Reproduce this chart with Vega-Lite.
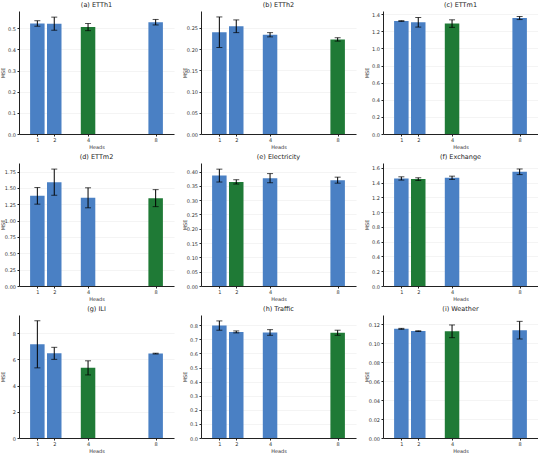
{
  "$schema": "https://vega.github.io/schema/vega-lite/v6.json",
  "background": "white",
  "padding": {"left": 0, "top": 1, "right": 0, "bottom": 0},
  "config": {
    "font": "DejaVu Sans",
    "view": {"stroke": null},
    "title": {"fontSize": 6.5, "fontWeight": "normal", "color": "#222222", "offset": 3},
    "axis": {
      "labelFontSize": 5,
      "titleFontSize": 5,
      "titleFontWeight": "normal",
      "labelColor": "#333333",
      "titleColor": "#333333",
      "domainColor": "#222222",
      "tickColor": "#222222",
      "tickSize": 2,
      "labelPadding": 1.5,
      "titlePadding": 2,
      "labelOverlap": false,
      "labelFlush": false
    },
    "axisX": {"grid": false, "labelAngle": 0},
    "axisY": {"grid": true, "gridColor": "#ececec", "gridWidth": 0.6, "titleX": -14}
  },
  "data": {
    "values": [
      {"dataset": "ETTh1", "heads": 1, "mse": 0.523, "err": 0.013},
      {"dataset": "ETTh1", "heads": 2, "mse": 0.522, "err": 0.031},
      {"dataset": "ETTh1", "heads": 4, "mse": 0.506, "err": 0.017},
      {"dataset": "ETTh1", "heads": 8, "mse": 0.529, "err": 0.013},
      {"dataset": "ETTh2", "heads": 1, "mse": 0.240, "err": 0.036},
      {"dataset": "ETTh2", "heads": 2, "mse": 0.254, "err": 0.015},
      {"dataset": "ETTh2", "heads": 4, "mse": 0.234, "err": 0.005},
      {"dataset": "ETTh2", "heads": 8, "mse": 0.223, "err": 0.004},
      {"dataset": "ETTm1", "heads": 1, "mse": 1.32, "err": 0.004},
      {"dataset": "ETTm1", "heads": 2, "mse": 1.305, "err": 0.056},
      {"dataset": "ETTm1", "heads": 4, "mse": 1.29, "err": 0.044},
      {"dataset": "ETTm1", "heads": 8, "mse": 1.355, "err": 0.018},
      {"dataset": "ETTm2", "heads": 1, "mse": 1.378, "err": 0.127},
      {"dataset": "ETTm2", "heads": 2, "mse": 1.587, "err": 0.2},
      {"dataset": "ETTm2", "heads": 4, "mse": 1.348, "err": 0.153},
      {"dataset": "ETTm2", "heads": 8, "mse": 1.343, "err": 0.13},
      {"dataset": "Electricity", "heads": 1, "mse": 0.386, "err": 0.0225},
      {"dataset": "Electricity", "heads": 2, "mse": 0.364, "err": 0.0075},
      {"dataset": "Electricity", "heads": 4, "mse": 0.377, "err": 0.016},
      {"dataset": "Electricity", "heads": 8, "mse": 0.370, "err": 0.0105},
      {"dataset": "Exchange", "heads": 1, "mse": 1.456, "err": 0.022},
      {"dataset": "Exchange", "heads": 2, "mse": 1.447, "err": 0.018},
      {"dataset": "Exchange", "heads": 4, "mse": 1.465, "err": 0.022},
      {"dataset": "Exchange", "heads": 8, "mse": 1.546, "err": 0.038},
      {"dataset": "ILI", "heads": 1, "mse": 7.16, "err": 1.8},
      {"dataset": "ILI", "heads": 2, "mse": 6.47, "err": 0.46},
      {"dataset": "ILI", "heads": 4, "mse": 5.36, "err": 0.54},
      {"dataset": "ILI", "heads": 8, "mse": 6.45, "err": 0.03},
      {"dataset": "Traffic", "heads": 1, "mse": 0.798, "err": 0.033},
      {"dataset": "Traffic", "heads": 2, "mse": 0.753, "err": 0.007},
      {"dataset": "Traffic", "heads": 4, "mse": 0.749, "err": 0.02},
      {"dataset": "Traffic", "heads": 8, "mse": 0.747, "err": 0.018},
      {"dataset": "Weather", "heads": 1, "mse": 0.1151, "err": 0.0005},
      {"dataset": "Weather", "heads": 2, "mse": 0.1127, "err": 0.0004},
      {"dataset": "Weather", "heads": 4, "mse": 0.1125, "err": 0.0067},
      {"dataset": "Weather", "heads": 8, "mse": 0.1137, "err": 0.0093}
    ]
  },
  "columns": 3,
  "spacing": {"row": 3, "column": 8},
  "concat": [
    {
      "title": "(a) ETTh1", "width": 155, "height": 123,
      "transform": [{"filter": "datum.dataset === 'ETTh1'"}, {"joinaggregate": [{"op": "min", "field": "mse", "as": "min_mse"}]}],
      "encoding": {
        "x": {"field": "heads", "type": "quantitative", "title": "Heads", "scale": {"domain": [0.21, 8.79], "nice": false}, "axis": {"values": [1, 2, 4, 8]}},
        "y": {"field": "mse", "type": "quantitative", "title": "MSE", "scale": {"domain": [0, 0.582], "nice": false}, "axis": {"values": [0, 0.1, 0.2, 0.3, 0.4, 0.5], "format": ".1f"}}
      },
      "layer": [
        {"mark": {"type": "bar", "size": 14.5}, "encoding": {"color": {"condition": {"test": "datum.mse === datum.min_mse", "value": "#1f7a36"}, "value": "#4a80c4"}}},
        {"mark": {"type": "errorbar", "ticks": true, "size": 6, "thickness": 1, "color": "black"}, "encoding": {"yError": {"field": "err"}}}
      ]
    },
    {
      "title": "(b) ETTh2", "width": 155, "height": 123,
      "transform": [{"filter": "datum.dataset === 'ETTh2'"}, {"joinaggregate": [{"op": "min", "field": "mse", "as": "min_mse"}]}],
      "encoding": {
        "x": {"field": "heads", "type": "quantitative", "title": "Heads", "scale": {"domain": [0.21, 8.79], "nice": false}, "axis": {"values": [1, 2, 4, 8]}},
        "y": {"field": "mse", "type": "quantitative", "title": "MSE", "scale": {"domain": [0, 0.29], "nice": false}, "axis": {"values": [0, 0.05, 0.1, 0.15, 0.2, 0.25], "format": ".2f"}}
      },
      "layer": [
        {"mark": {"type": "bar", "size": 14.5}, "encoding": {"color": {"condition": {"test": "datum.mse === datum.min_mse", "value": "#1f7a36"}, "value": "#4a80c4"}}},
        {"mark": {"type": "errorbar", "ticks": true, "size": 6, "thickness": 1, "color": "black"}, "encoding": {"yError": {"field": "err"}}}
      ]
    },
    {
      "title": "(c) ETTm1", "width": 155, "height": 123,
      "transform": [{"filter": "datum.dataset === 'ETTm1'"}, {"joinaggregate": [{"op": "min", "field": "mse", "as": "min_mse"}]}],
      "encoding": {
        "x": {"field": "heads", "type": "quantitative", "title": "Heads", "scale": {"domain": [0.21, 8.79], "nice": false}, "axis": {"values": [1, 2, 4, 8]}},
        "y": {"field": "mse", "type": "quantitative", "title": "MSE", "scale": {"domain": [0, 1.437], "nice": false}, "axis": {"values": [0, 0.2, 0.4, 0.6, 0.8, 1.0, 1.2, 1.4], "format": ".1f"}}
      },
      "layer": [
        {"mark": {"type": "bar", "size": 14.5}, "encoding": {"color": {"condition": {"test": "datum.mse === datum.min_mse", "value": "#1f7a36"}, "value": "#4a80c4"}}},
        {"mark": {"type": "errorbar", "ticks": true, "size": 6, "thickness": 1, "color": "black"}, "encoding": {"yError": {"field": "err"}}}
      ]
    },
    {
      "title": "(d) ETTm2", "width": 155, "height": 123,
      "transform": [{"filter": "datum.dataset === 'ETTm2'"}, {"joinaggregate": [{"op": "min", "field": "mse", "as": "min_mse"}]}],
      "encoding": {
        "x": {"field": "heads", "type": "quantitative", "title": "Heads", "scale": {"domain": [0.21, 8.79], "nice": false}, "axis": {"values": [1, 2, 4, 8]}},
        "y": {"field": "mse", "type": "quantitative", "title": "MSE", "scale": {"domain": [0, 1.88], "nice": false}, "axis": {"values": [0, 0.25, 0.5, 0.75, 1.0, 1.25, 1.5, 1.75], "format": ".2f"}}
      },
      "layer": [
        {"mark": {"type": "bar", "size": 14.5}, "encoding": {"color": {"condition": {"test": "datum.mse === datum.min_mse", "value": "#1f7a36"}, "value": "#4a80c4"}}},
        {"mark": {"type": "errorbar", "ticks": true, "size": 6, "thickness": 1, "color": "black"}, "encoding": {"yError": {"field": "err"}}}
      ]
    },
    {
      "title": "(e) Electricity", "width": 155, "height": 123,
      "transform": [{"filter": "datum.dataset === 'Electricity'"}, {"joinaggregate": [{"op": "min", "field": "mse", "as": "min_mse"}]}],
      "encoding": {
        "x": {"field": "heads", "type": "quantitative", "title": "Heads", "scale": {"domain": [0.21, 8.79], "nice": false}, "axis": {"values": [1, 2, 4, 8]}},
        "y": {"field": "mse", "type": "quantitative", "title": "MSE", "scale": {"domain": [0, 0.43], "nice": false}, "axis": {"values": [0, 0.05, 0.1, 0.15, 0.2, 0.25, 0.3, 0.35, 0.4], "format": ".2f"}}
      },
      "layer": [
        {"mark": {"type": "bar", "size": 14.5}, "encoding": {"color": {"condition": {"test": "datum.mse === datum.min_mse", "value": "#1f7a36"}, "value": "#4a80c4"}}},
        {"mark": {"type": "errorbar", "ticks": true, "size": 6, "thickness": 1, "color": "black"}, "encoding": {"yError": {"field": "err"}}}
      ]
    },
    {
      "title": "(f) Exchange", "width": 155, "height": 123,
      "transform": [{"filter": "datum.dataset === 'Exchange'"}, {"joinaggregate": [{"op": "min", "field": "mse", "as": "min_mse"}]}],
      "encoding": {
        "x": {"field": "heads", "type": "quantitative", "title": "Heads", "scale": {"domain": [0.21, 8.79], "nice": false}, "axis": {"values": [1, 2, 4, 8]}},
        "y": {"field": "mse", "type": "quantitative", "title": "MSE", "scale": {"domain": [0, 1.665], "nice": false}, "axis": {"values": [0, 0.2, 0.4, 0.6, 0.8, 1.0, 1.2, 1.4, 1.6], "format": ".1f"}}
      },
      "layer": [
        {"mark": {"type": "bar", "size": 14.5}, "encoding": {"color": {"condition": {"test": "datum.mse === datum.min_mse", "value": "#1f7a36"}, "value": "#4a80c4"}}},
        {"mark": {"type": "errorbar", "ticks": true, "size": 6, "thickness": 1, "color": "black"}, "encoding": {"yError": {"field": "err"}}}
      ]
    },
    {
      "title": "(g) ILI", "width": 155, "height": 123,
      "transform": [{"filter": "datum.dataset === 'ILI'"}, {"joinaggregate": [{"op": "min", "field": "mse", "as": "min_mse"}]}],
      "encoding": {
        "x": {"field": "heads", "type": "quantitative", "title": "Heads", "scale": {"domain": [0.21, 8.79], "nice": false}, "axis": {"values": [1, 2, 4, 8]}},
        "y": {"field": "mse", "type": "quantitative", "title": "MSE", "scale": {"domain": [0, 9.4], "nice": false}, "axis": {"values": [0, 2, 4, 6, 8], "format": "d"}}
      },
      "layer": [
        {"mark": {"type": "bar", "size": 14.5}, "encoding": {"color": {"condition": {"test": "datum.mse === datum.min_mse", "value": "#1f7a36"}, "value": "#4a80c4"}}},
        {"mark": {"type": "errorbar", "ticks": true, "size": 6, "thickness": 1, "color": "black"}, "encoding": {"yError": {"field": "err"}}}
      ]
    },
    {
      "title": "(h) Traffic", "width": 155, "height": 123,
      "transform": [{"filter": "datum.dataset === 'Traffic'"}, {"joinaggregate": [{"op": "min", "field": "mse", "as": "min_mse"}]}],
      "encoding": {
        "x": {"field": "heads", "type": "quantitative", "title": "Heads", "scale": {"domain": [0.21, 8.79], "nice": false}, "axis": {"values": [1, 2, 4, 8]}},
        "y": {"field": "mse", "type": "quantitative", "title": "MSE", "scale": {"domain": [0, 0.873], "nice": false}, "axis": {"values": [0, 0.1, 0.2, 0.3, 0.4, 0.5, 0.6, 0.7, 0.8], "format": ".1f"}}
      },
      "layer": [
        {"mark": {"type": "bar", "size": 14.5}, "encoding": {"color": {"condition": {"test": "datum.mse === datum.min_mse", "value": "#1f7a36"}, "value": "#4a80c4"}}},
        {"mark": {"type": "errorbar", "ticks": true, "size": 6, "thickness": 1, "color": "black"}, "encoding": {"yError": {"field": "err"}}}
      ]
    },
    {
      "title": "(i) Weather", "width": 155, "height": 123,
      "transform": [{"filter": "datum.dataset === 'Weather'"}, {"joinaggregate": [{"op": "min", "field": "mse", "as": "min_mse"}]}],
      "encoding": {
        "x": {"field": "heads", "type": "quantitative", "title": "Heads", "scale": {"domain": [0.21, 8.79], "nice": false}, "axis": {"values": [1, 2, 4, 8]}},
        "y": {"field": "mse", "type": "quantitative", "title": "MSE", "scale": {"domain": [0, 0.1297], "nice": false}, "axis": {"values": [0, 0.02, 0.04, 0.06, 0.08, 0.1, 0.12], "format": ".2f"}}
      },
      "layer": [
        {"mark": {"type": "bar", "size": 14.5}, "encoding": {"color": {"condition": {"test": "datum.mse === datum.min_mse", "value": "#1f7a36"}, "value": "#4a80c4"}}},
        {"mark": {"type": "errorbar", "ticks": true, "size": 6, "thickness": 1, "color": "black"}, "encoding": {"yError": {"field": "err"}}}
      ]
    }
  ]
}
